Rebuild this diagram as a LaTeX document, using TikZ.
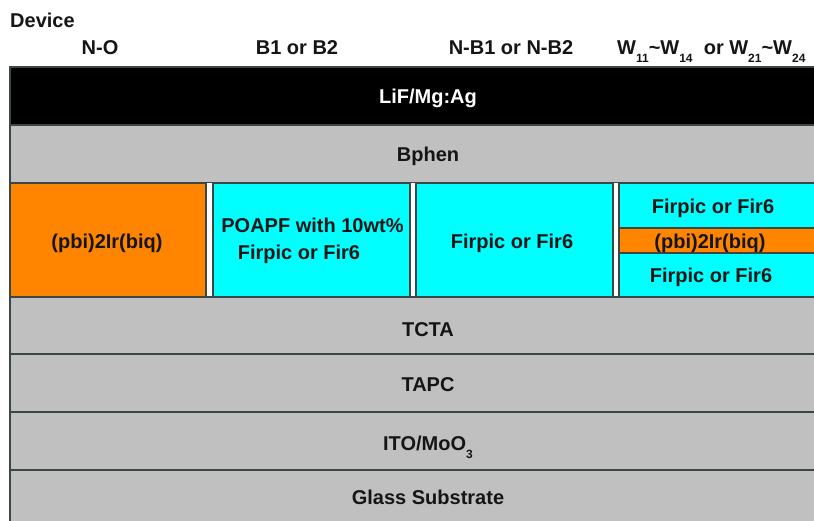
\documentclass[tikz,border=0pt]{standalone}
\usepackage{fontspec}
\setmainfont{Liberation Sans}
\definecolor{edge}{HTML}{3C4646}
\definecolor{layergray}{HTML}{C0C0C0}
\definecolor{cyanfill}{HTML}{00FFFF}
\definecolor{orangefill}{HTML}{FF8400}
\definecolor{txt}{HTML}{151515}
\newcommand{\subw}[1]{\raisebox{-8pt}{\fontsize{12}{13}\selectfont #1}}
\tikzset{
  layer/.style={draw=edge, line width=1.1pt},
  lbl/.style={font=\bfseries\fontsize{20}{24}\selectfont, text=txt, inner sep=0pt, anchor=base},
  hdr/.style={font=\bfseries\fontsize{20}{24}\selectfont, text=txt, inner sep=0pt, anchor=base},
}
\begin{document}
\begin{tikzpicture}[x=1pt,y=-1pt]
\useasboundingbox (0,0) rectangle (814,520);
\clip (0,0) rectangle (814,520);
\fill[white] (0,0) rectangle (814,520);
% header
\node[hdr, anchor=base west] (dev) at (10,27) {Device};
\node[hdr] (hNO) at (100,54) {N-O};
\node[hdr] (hB) at (297,54) {B1 or B2};
\node[hdr] (hNB) at (511,54) {N-B1 or N-B2};
\node[hdr, anchor=base west] (hW) at (617,54) {W\subw{11}\textasciitilde W\subw{14}\ \ or W\subw{21}\textasciitilde W\subw{24}};
% layers
\filldraw[layer, fill=black] (10,67) rectangle (846,125);
\node[lbl, text=white] (lif) at (428,103) {LiF/Mg:Ag};
\filldraw[layer, fill=layergray] (10,125) rectangle (846,183);
\node[lbl] (bphen) at (428,161) {Bphen};
% emissive row
\fill[white] (10,183) rectangle (846,297);
\filldraw[layer, fill=orangefill] (10,183) rectangle (206,297);
\filldraw[layer, fill=cyanfill] (213,183) rectangle (410,297);
\filldraw[layer, fill=cyanfill] (416,183) rectangle (613,297);
\filldraw[layer, fill=cyanfill] (619,183) rectangle (846,228);
\filldraw[layer, fill=orangefill] (619,228) rectangle (846,253);
\filldraw[layer, fill=cyanfill] (619,253) rectangle (846,297);
\node[lbl] (eml1) at (107,248) {(pbi)2Ir(biq)};
\node[lbl] (eml2a) at (312.5,232) {POAPF with 10wt\%};
\node[lbl] (eml2b) at (299,259) {Firpic or Fir6};
\node[lbl] (eml3) at (512,248) {Firpic or Fir6};
\node[lbl] (eml4a) at (713,213) {Firpic or Fir6};
\node[lbl] (eml4b) at (710,248) {(pbi)2Ir(biq)};
\node[lbl] (eml4c) at (711,282) {Firpic or Fir6};
% lower layers
\filldraw[layer, fill=layergray] (10,297) rectangle (846,354);
\node[lbl] (tcta) at (428,336) {TCTA};
\filldraw[layer, fill=layergray] (10,354) rectangle (846,412);
\node[lbl] (tapc) at (428,391) {TAPC};
\filldraw[layer, fill=layergray] (10,412) rectangle (846,470);
\node[lbl] (ito) at (428,450) {ITO/MoO\subw{3}};
\filldraw[layer, fill=layergray] (10,470) rectangle (846,540);
\node[lbl] (glass) at (428,504) {Glass Substrate};
\end{tikzpicture}
\end{document}
